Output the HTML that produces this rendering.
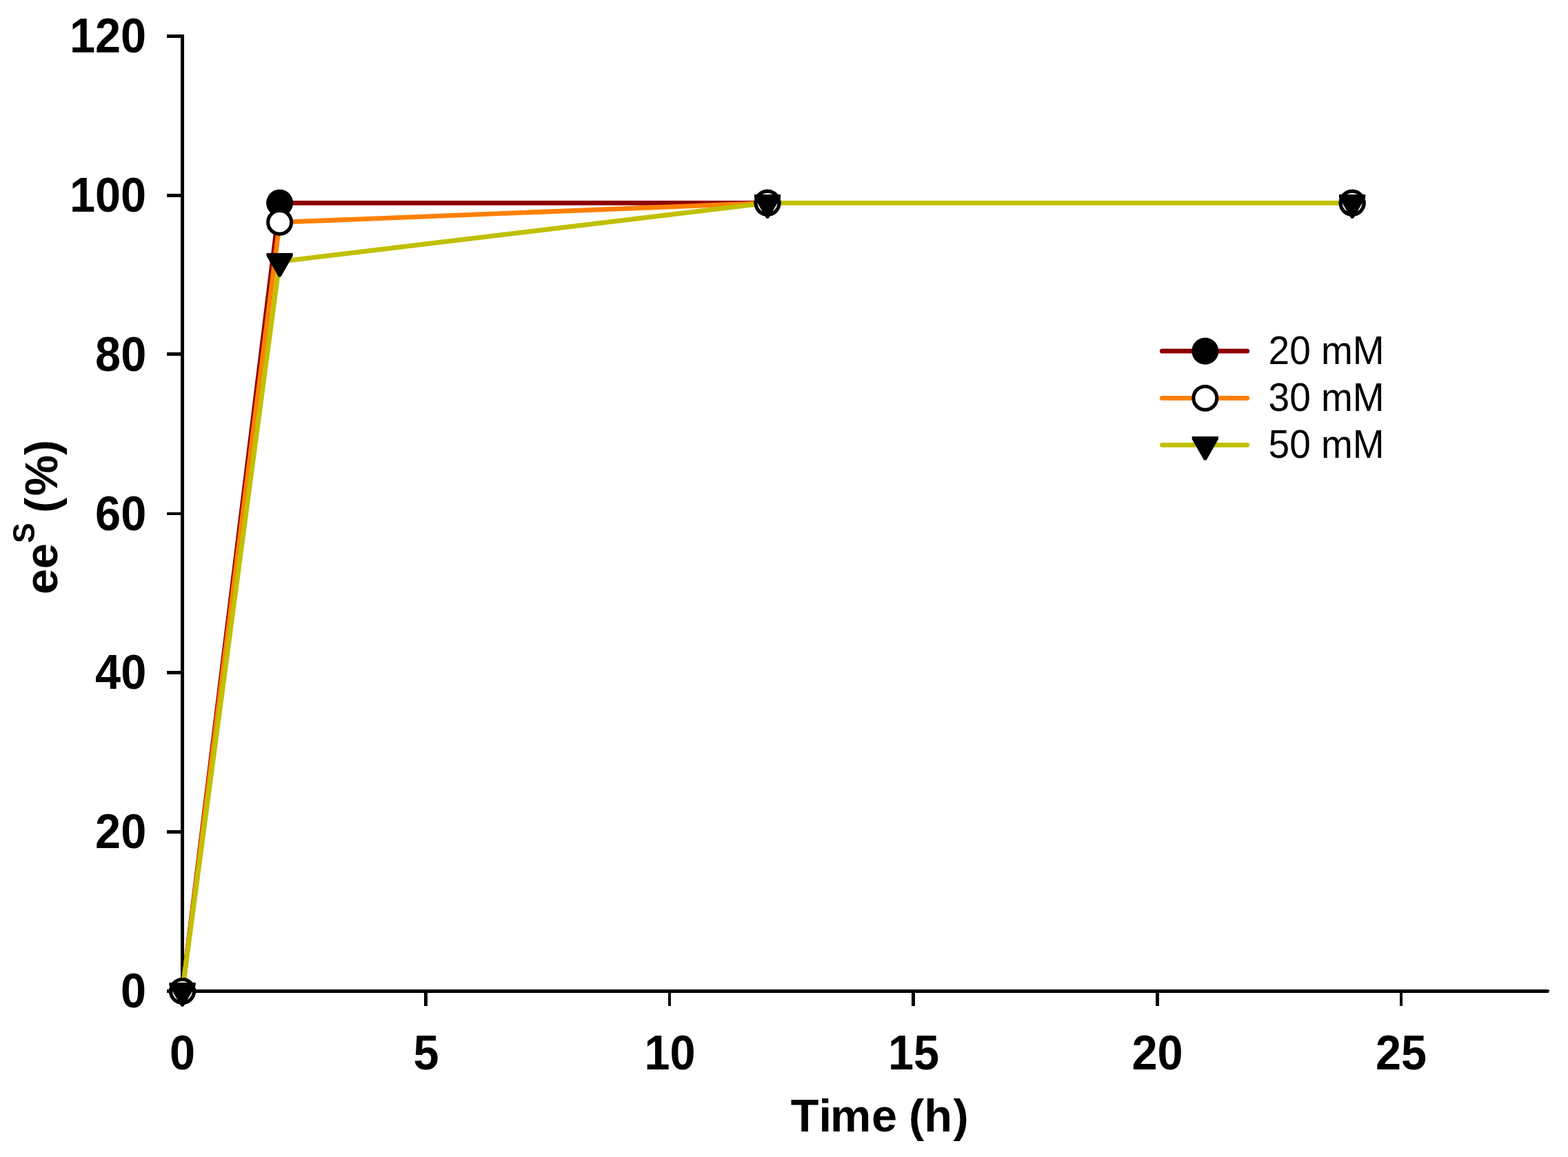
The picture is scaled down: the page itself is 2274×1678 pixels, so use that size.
<!DOCTYPE html>
<html lang="en"><head><meta charset="utf-8"><title>ee S (%) vs Time (h)</title>
<style>html,body{margin:0;padding:0;background:#fff}body{width:2274px;height:1678px}svg{display:block}text{font-family:"Liberation Sans",sans-serif;fill:#000}.b{font-weight:700;font-size:66.67px}.l{font-size:55px}</style></head><body>
<svg width="2274" height="1678" viewBox="0 0 2274 1678" role="img" aria-label="Line chart of ee S (%) versus Time (h) for 20 mM, 30 mM and 50 mM">
<rect width="2274" height="1678" fill="#fff"/>
<g id="axes" fill="#000" shape-rendering="crispEdges">
<rect x="262" y="50" width="5" height="1390"/>
<rect x="262" y="1435" width="1984" height="5"/>
<rect x="2246" y="1436" width="1" height="2"/>
<rect x="242" y="50" width="21" height="5"/>
<rect x="242" y="281" width="21" height="5"/>
<rect x="242" y="511" width="21" height="5"/>
<rect x="242" y="743" width="21" height="4"/>
<rect x="242" y="973" width="21" height="5"/>
<rect x="242" y="1204" width="21" height="5"/>
<rect x="242" y="1435" width="21" height="5"/>
<rect x="615" y="1439" width="5" height="20"/>
<rect x="969" y="1439" width="4" height="20"/>
<rect x="1322" y="1439" width="5" height="20"/>
<rect x="1676" y="1439" width="5" height="20"/>
<rect x="2030" y="1439" width="4" height="20"/>
</g>
<g id="labels" class="b">
<text transform="translate(212.2 1461.0) scale(1 1.045)" text-anchor="end">0</text>
<text transform="translate(212.2 1230.2) scale(1 1.045)" text-anchor="end">20</text>
<text transform="translate(212.2 999.3) scale(1 1.045)" text-anchor="end">40</text>
<text transform="translate(212.2 768.5) scale(1 1.045)" text-anchor="end">60</text>
<text transform="translate(212.2 537.7) scale(1 1.045)" text-anchor="end">80</text>
<text transform="translate(212.2 306.8) scale(1 1.045)" text-anchor="end">100</text>
<text transform="translate(212.2 76.0) scale(1 1.045)" text-anchor="end">120</text>
<text transform="translate(264.5 1551.1) scale(1 1.045)" text-anchor="middle">0</text>
<text transform="translate(618.0 1551.1) scale(1 1.045)" text-anchor="middle">5</text>
<text transform="translate(971.5 1551.1) scale(1 1.045)" text-anchor="middle">10</text>
<text transform="translate(1325.0 1551.1) scale(1 1.045)" text-anchor="middle">15</text>
<text transform="translate(1678.5 1551.1) scale(1 1.045)" text-anchor="middle">20</text>
<text transform="translate(2032.0 1551.1) scale(1 1.045)" text-anchor="middle">25</text>
<text x="1145.9" y="1641.1" dx="0.8 1.4 -2.2 0.7 0 -1.5 0 1.5">Time (h)</text>
<text transform="translate(83.2 862) rotate(-90)">ee<tspan dy="-33.5" font-size="44.4px">S</tspan><tspan dy="33.5" dx="0 -4 2.3 0"> (%)</tspan></text>
</g>
<g id="series-lines">
<path d="M264.50 1437.50 L405.60 294.35 L1113.00 294.35" fill="none" stroke="#8e0000" stroke-width="6.8" stroke-linejoin="round" stroke-linecap="round"/>
<path d="M264.50 1437.50 L405.60 322.40 L1113.00 294.35" fill="none" stroke="#ff8000" stroke-width="6.8" stroke-linejoin="round" stroke-linecap="round"/>
<path d="M264.50 1437.50 L405.60 379.30 L1113.00 294.35 L1961.10 294.35" fill="none" stroke="#c0c000" stroke-width="6.8" stroke-linejoin="round" stroke-linecap="round"/>
</g>
<g id="series-markers">
<circle cx="264.50" cy="1437.50" r="19.5" fill="#000"/>
<circle cx="405.60" cy="294.35" r="19.5" fill="#000"/>
<circle cx="1113.00" cy="294.35" r="19.5" fill="#000"/>
<circle cx="1961.10" cy="294.35" r="19.5" fill="#000"/>
<circle cx="264.50" cy="1437.50" r="16.95" fill="#fff" stroke="#000" stroke-width="5.1"/>
<circle cx="405.60" cy="322.40" r="16.95" fill="#fff" stroke="#000" stroke-width="5.1"/>
<circle cx="1113.00" cy="294.35" r="16.95" fill="#fff" stroke="#000" stroke-width="5.1"/>
<circle cx="1961.10" cy="294.35" r="16.95" fill="#fff" stroke="#000" stroke-width="5.1"/>
<path d="M245.40 1425.10 L283.60 1425.10 L283.60 1429.30 L266.20 1459.80 L262.80 1459.80 L245.40 1429.30 Z" fill="#000"/>
<path d="M386.50 366.90 L424.70 366.90 L424.70 371.10 L407.30 401.60 L403.90 401.60 L386.50 371.10 Z" fill="#000"/>
<path d="M1093.90 281.95 L1132.10 281.95 L1132.10 286.15 L1114.70 316.65 L1111.30 316.65 L1093.90 286.15 Z" fill="#000"/>
<path d="M1942.00 281.95 L1980.20 281.95 L1980.20 286.15 L1962.80 316.65 L1959.40 316.65 L1942.00 286.15 Z" fill="#000"/>
</g>
<g id="legend">
<line x1="1685.3" y1="509.2" x2="1808.7" y2="509.2" stroke="#8e0000" stroke-width="6.8" stroke-linecap="round"/>
<circle cx="1747.80" cy="509.20" r="19.5" fill="#000"/>
<text class="l" transform="translate(1839.6 527.8) scale(1 1.055)">20 mM</text>
<line x1="1685.3" y1="577.4" x2="1808.7" y2="577.4" stroke="#ff8000" stroke-width="6.8" stroke-linecap="round"/>
<circle cx="1747.80" cy="577.40" r="16.95" fill="#fff" stroke="#000" stroke-width="5.1"/>
<text class="l" transform="translate(1839.6 596.0) scale(1 1.055)">30 mM</text>
<line x1="1685.3" y1="645.3" x2="1808.7" y2="645.3" stroke="#c0c000" stroke-width="6.8" stroke-linecap="round"/>
<path d="M1728.70 632.90 L1766.90 632.90 L1766.90 637.10 L1749.50 667.60 L1746.10 667.60 L1728.70 637.10 Z" fill="#000"/>
<text class="l" transform="translate(1839.6 664.3) scale(1 1.055)">50 mM</text>
</g>
</svg></body></html>
